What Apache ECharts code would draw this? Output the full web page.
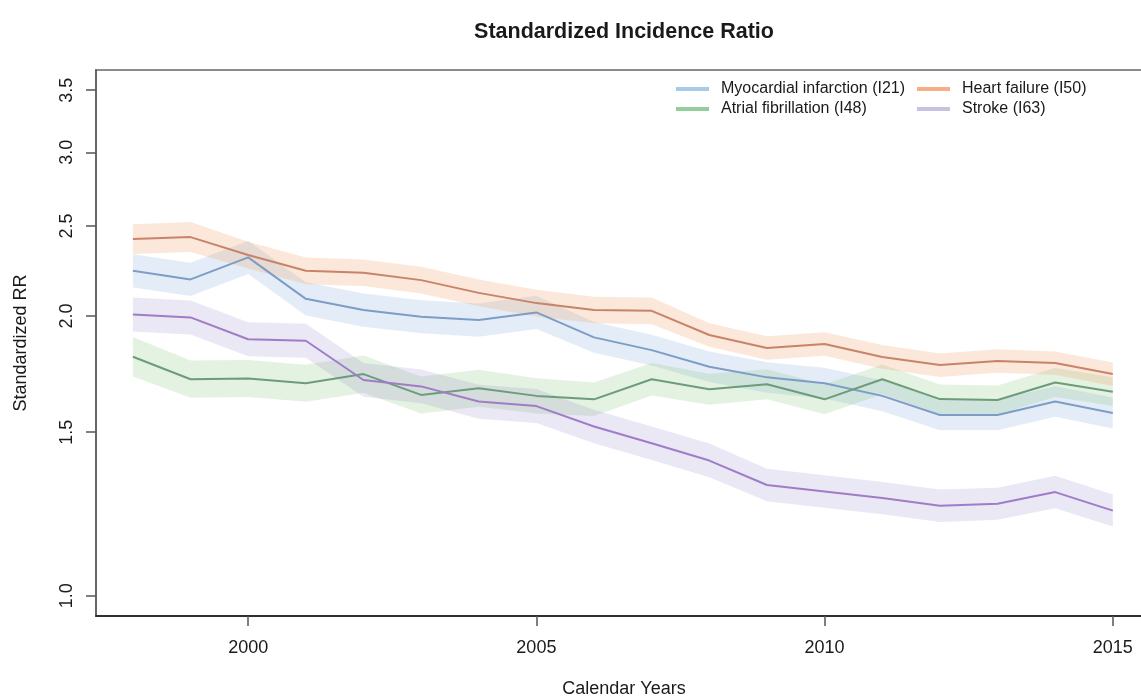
<!DOCTYPE html>
<html>
<head>
<meta charset="utf-8">
<script src="https://cdn.jsdelivr.net/npm/echarts@6/dist/echarts.min.js"></script>
<style>
  html, body { margin: 0; padding: 0; background: #ffffff; }
  #chart { width: 1141px; height: 698px; }
</style>
</head>
<body>
<div id="chart"></div>
<script>
// Calendar years covered by the registry
const years = [1998, 1999, 2000, 2001, 2002, 2003, 2004, 2005, 2006, 2007, 2008, 2009, 2010, 2011, 2012, 2013, 2014, 2015];

// Myocardial infarction (I21): estimate and 95% interval
const miEst  = [2.237, 2.190, 2.313, 2.087, 2.030, 1.996, 1.980, 2.018, 1.897, 1.838, 1.764, 1.718, 1.693, 1.641, 1.565, 1.565, 1.618, 1.573];
const miLow  = [2.147, 2.102, 2.220, 2.003, 1.948, 1.916, 1.900, 1.937, 1.826, 1.769, 1.698, 1.654, 1.630, 1.580, 1.507, 1.507, 1.558, 1.514];
const miHigh = [2.331, 2.282, 2.410, 2.174, 2.115, 2.080, 2.063, 2.103, 1.970, 1.909, 1.832, 1.784, 1.759, 1.705, 1.626, 1.626, 1.681, 1.634];

// Atrial fibrillation (I48)
const afEst  = [1.808, 1.710, 1.713, 1.693, 1.732, 1.645, 1.672, 1.641, 1.627, 1.710, 1.668, 1.689, 1.627, 1.710, 1.628, 1.624, 1.696, 1.658];
const afLow  = [1.722, 1.633, 1.636, 1.617, 1.654, 1.571, 1.597, 1.571, 1.561, 1.643, 1.605, 1.627, 1.568, 1.648, 1.570, 1.566, 1.636, 1.600];
const afHigh = [1.899, 1.791, 1.794, 1.773, 1.814, 1.722, 1.751, 1.714, 1.696, 1.780, 1.734, 1.753, 1.688, 1.774, 1.688, 1.684, 1.758, 1.718];

// Heart failure (I50)
const hfEst  = [2.420, 2.432, 2.326, 2.237, 2.226, 2.186, 2.118, 2.065, 2.030, 2.026, 1.908, 1.848, 1.866, 1.807, 1.771, 1.789, 1.780, 1.732];
const hfLow  = [2.332, 2.344, 2.250, 2.164, 2.154, 2.115, 2.049, 1.998, 1.964, 1.960, 1.853, 1.795, 1.813, 1.755, 1.720, 1.738, 1.729, 1.682];
const hfHigh = [2.511, 2.524, 2.404, 2.312, 2.301, 2.259, 2.189, 2.134, 2.098, 2.094, 1.964, 1.902, 1.921, 1.861, 1.823, 1.842, 1.832, 1.783];

// Stroke (I63)
const stEst  = [2.008, 1.993, 1.888, 1.881, 1.707, 1.680, 1.618, 1.600, 1.521, 1.459, 1.398, 1.316, 1.295, 1.274, 1.250, 1.256, 1.293, 1.235];
const stLow  = [1.925, 1.911, 1.810, 1.804, 1.637, 1.611, 1.551, 1.534, 1.459, 1.400, 1.341, 1.264, 1.244, 1.224, 1.201, 1.207, 1.242, 1.187];
const stHigh = [2.094, 2.078, 1.969, 1.962, 1.780, 1.752, 1.687, 1.669, 1.586, 1.521, 1.458, 1.370, 1.348, 1.326, 1.301, 1.307, 1.346, 1.285];

// Axis tick labels
const xTicks = [2000, 2005, 2010, 2015];
const yTicks = [1.0, 1.5, 2.0, 2.5, 3.0, 3.5];

const outcomes = [
  { name: 'Myocardial infarction (I21)', est: miEst, low: miLow, high: miHigh,
    line: '#7d9cc6', band: 'rgba(120,165,215,0.20)', key: '#a9c9e8' },
  { name: 'Atrial fibrillation (I48)', est: afEst, low: afLow, high: afHigh,
    line: '#6c9c7a', band: 'rgba(120,190,110,0.20)', key: '#93cd9d' },
  { name: 'Heart failure (I50)', est: hfEst, low: hfLow, high: hfHigh,
    line: '#c8836a', band: 'rgba(240,160,100,0.24)', key: '#f5ae86' },
  { name: 'Stroke (I63)', est: stEst, low: stLow, high: stHigh,
    line: '#a07cc8', band: 'rgba(150,140,200,0.20)', key: '#c9c1e1' }
];

const FONT = '"Liberation Sans", Arial, Helvetica, sans-serif';
const TEXT = '#1a1a1a';

// Each outcome: a shaded confidence band, then its estimate line on top
const series = [];
outcomes.forEach(function (o) {
  series.push({
    type: 'custom',
    name: o.name + ' CI',
    silent: true,
    clip: true,
    encode: { x: 0, y: [1, 2] },
    data: years.map(function (y, i) { return [y, o.low[i], o.high[i]]; }),
    renderItem: function (params, api) {
      if (params.dataIndex !== 0) return;
      const pts = [];
      for (let i = 0; i < years.length; i++) pts.push(api.coord([years[i], o.high[i]]));
      for (let i = years.length - 1; i >= 0; i--) pts.push(api.coord([years[i], o.low[i]]));
      return { type: 'polygon', shape: { points: pts }, style: { fill: o.band } };
    }
  });
  series.push({
    type: 'line',
    name: o.name,
    symbol: 'none',
    data: years.map(function (y, i) { return [y, o.est[i]]; }),
    lineStyle: { color: o.line, width: 2 },
    itemStyle: { color: o.key }
  });
});

function legendItem(o) {
  return { name: o.name, itemStyle: { color: o.key } };
}

const legendBase = {
  top: 81, orient: 'vertical', icon: 'rect',
  itemWidth: 33, itemHeight: 4, itemGap: 4, padding: 0, selectedMode: false,
  textStyle: { fontFamily: FONT, fontSize: 16, color: TEXT, padding: [0, 0, 0, 7] }
};

const chart = echarts.init(document.getElementById('chart'), null, { renderer: 'canvas' });
chart.setOption({
  animation: false,
  backgroundColor: '#ffffff',
  textStyle: { fontFamily: FONT },
  title: {
    text: 'Standardized Incidence Ratio',
    left: 619, top: 16,
    textAlign: 'center',
    textStyle: { fontFamily: FONT, fontSize: 21.5, fontWeight: 'bold', color: TEXT }
  },
  legend: [
    Object.assign({ left: 676, data: [legendItem(outcomes[0]), legendItem(outcomes[1])] }, legendBase),
    Object.assign({ left: 917, data: [legendItem(outcomes[2]), legendItem(outcomes[3])] }, legendBase)
  ],
  grid: {
    left: 96, top: 70, width: 1056, height: 546,
    outerBoundsMode: 'none', containLabel: false,
    show: true, borderColor: '#8c8c8c', borderWidth: 2, backgroundColor: 'transparent'
  },
  xAxis: {
    type: 'value',
    min: 1997.36, max: 2015.68,
    name: 'Calendar Years',
    nameLocation: 'middle', nameGap: 64,
    nameTextStyle: { fontFamily: FONT, fontSize: 18, color: TEXT },
    axisLine: { show: true, lineStyle: { color: '#111', width: 1.5 } },
    axisTick: { show: true, length: 10, customValues: xTicks, lineStyle: { color: '#555', width: 1.5 } },
    axisLabel: { customValues: xTicks, margin: 23, fontFamily: FONT, fontSize: 18, color: TEXT,
      formatter: function (v) { return String(v); } },
    splitLine: { show: false }
  },
  yAxis: {
    type: 'log',
    logBase: 10,
    min: 0.9512, max: 3.679,
    name: 'Standardized RR',
    nameLocation: 'middle', nameGap: 66, nameRotate: 90,
    nameTextStyle: { fontFamily: FONT, fontSize: 18, color: TEXT },
    axisLine: { show: true, lineStyle: { color: '#666', width: 2 } },
    axisTick: { show: true, length: 10, customValues: yTicks, lineStyle: { color: '#555', width: 1.5 } },
    axisLabel: { customValues: yTicks, rotate: 90, margin: 20, fontFamily: FONT, fontSize: 18, color: TEXT,
      formatter: function (v) { return Number(v).toFixed(1); } },
    splitLine: { show: false }
  },
  series: series
});
</script>
</body>
</html>
